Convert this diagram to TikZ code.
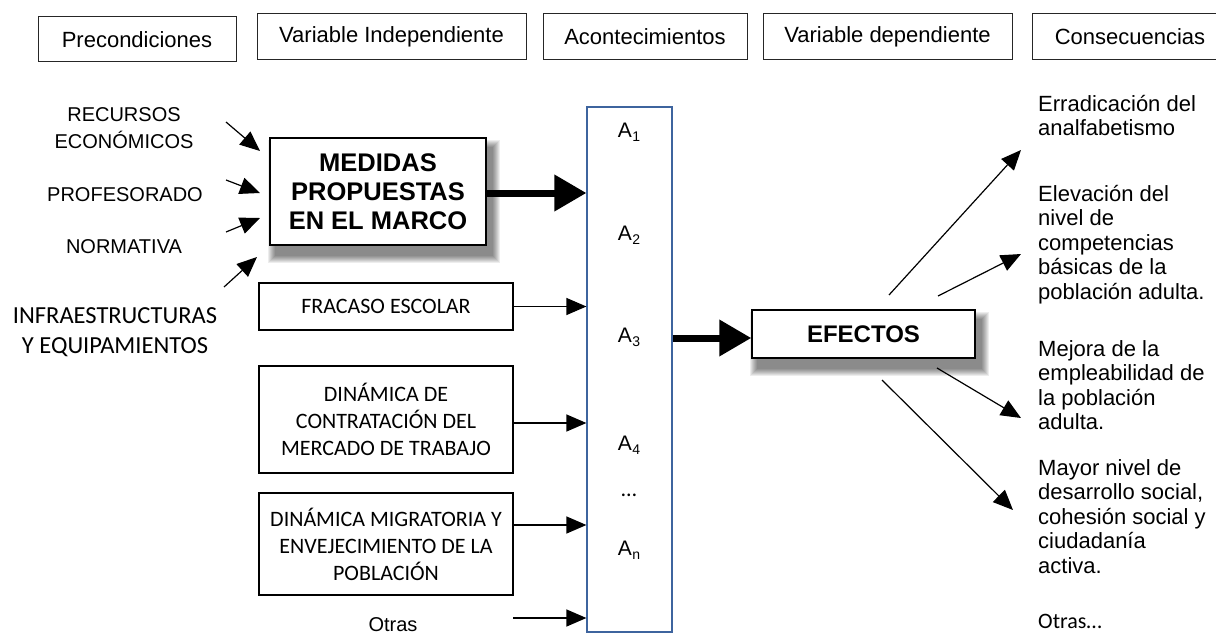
\documentclass[tikz,border=0pt]{standalone}
\usepackage{fontspec}
\setmainfont{Liberation Sans}
\newfontfamily\calfont{Carlito}
\usetikzlibrary{arrows.meta}
\pgfdeclarelayer{bg}
\pgfsetlayers{bg,main}
\newcommand\Asub[1]{A\kern0.3pt\raisebox{-4pt}{\fontsize{14}{14}\selectfont #1}}
\newcommand\softshadow[1]{%
  \foreach \g in {0,...,7}{%
    \fill[black,opacity=0.07] ([shift={(6-\g,10-\g)}]#1.north west) rectangle ([shift={(6+\g,10+\g)}]#1.south east);
  }}
\begin{document}
\begin{tikzpicture}[x=1pt,y=-1pt,
  hdr/.style={draw=black!85, line width=1pt, inner sep=0pt, font=\fontsize{22}{25}\selectfont},
  bigbox/.style={draw, line width=1.4pt, fill=white, inner sep=0pt, align=center, font=\bfseries\fontsize{25.5}{29}\selectfont},
  factorbox/.style={draw, line width=1.4pt, inner sep=0pt, align=center, font=\calfont\fontsize{22}{27}\selectfont},
  lbl/.style={inner sep=0pt, align=center, font=\fontsize{20}{27}\selectfont},
  res/.style={inner sep=0pt, anchor=north west, align=left, font=\fontsize{22}{24.5}\selectfont},
  arr/.style={line width=1.2pt, -{Triangle[length=20pt,width=17pt]}},
  fatarr/.style={line width=7pt, -{Triangle[length=32pt,width=35pt]}},
  alabel/.style={inner sep=0pt, font=\fontsize{21}{24}\selectfont},
]
\useasboundingbox (0,0) rectangle (1216,634);
\begin{pgfonlayer}{bg}
\fill[white] (0,0) rectangle (1216,634);
\end{pgfonlayer}

% header row
\node[hdr, minimum width=198pt, minimum height=45pt] (h1) at (137,39.5) {Precondiciones};
\node[hdr, minimum width=269pt, minimum height=46pt] (h2) at (391.5,37) {Variable Independiente};
\node[hdr, minimum width=204pt, minimum height=46pt] (h3) at (645,37) {Acontecimientos};
\node[hdr, minimum width=249pt, minimum height=46pt] (h4) at (887.5,37) {Variable dependiente};
\node[hdr, minimum width=196pt, minimum height=46pt] (h5) at (1130,37) {Consecuencias};

% left preconditions
\node[lbl] (rec) at (124,128.5) {RECURSOS\\ECONÓMICOS};
\node[lbl] (prof) at (125,195) {PROFESORADO};
\node[lbl] (norm) at (124,247) {NORMATIVA};
\node[inner sep=0pt, align=center, font=\calfont\fontsize{24.5}{30}\selectfont] (infra) at (115,332) {INFRAESTRUCTURAS\\Y EQUIPAMIENTOS};

% main box
\node[bigbox, minimum width=216pt, minimum height=107pt] (med) at (378,191.5) {MEDIDAS\\PROPUESTAS\\EN EL MARCO};

% factor boxes
\node[factorbox, minimum width=254pt, minimum height=47pt] (fr) at (386,306.5) {FRACASO ESCOLAR};
\node[factorbox, minimum width=254pt, minimum height=107pt] (din) at (386,419.5) {DINÁMICA DE\\CONTRATACIÓN DEL\\MERCADO DE TRABAJO};
\node[factorbox, minimum width=254pt, minimum height=102pt] (mig) at (386,544) {DINÁMICA MIGRATORIA Y\\ENVEJECIMIENTO DE LA\\POBLACIÓN};
\node[inner sep=0pt, anchor=base, font=\fontsize{20}{23}\selectfont] (otl) at (393,631) {Otras};

% events column
\node[draw={rgb,255:red,62;green,100;blue,158}, line width=1.2pt, minimum width=85pt, minimum height=525pt, inner sep=0pt] (col) at (629.5,369.5) {};
\node[alabel] (a1) at (629,132) {\Asub{1}};
\node[alabel] (a2) at (629,235) {\Asub{2}};
\node[alabel] (a3) at (629,337) {\Asub{3}};
\node[alabel] (a4) at (629,445) {\Asub{4}};
\node[inner sep=0pt, font=\calfont\fontsize{22}{24}\selectfont] (adots) at (629,495) {…};
\node[alabel] (an) at (629,550) {\Asub{n}};

% effects box
\node[bigbox, font=\bfseries\fontsize{24}{28}\selectfont, minimum width=223pt, minimum height=48pt] (ef) at (863.5,334) {EFECTOS};

\begin{pgfonlayer}{bg}
  \softshadow{med}
  \softshadow{ef}
\end{pgfonlayer}

% consequences
\node[res] (c1) at (1038,95) {Erradicación del\\analfabetismo};
\node[res] (c2) at (1038,185) {Elevación del\\nivel de\\competencias\\básicas de la\\población adulta.};
\node[res] (c3) at (1038,340) {Mejora de la\\empleabilidad de\\la población\\adulta.};
\node[res] (c4) at (1038,459) {Mayor nivel de\\desarrollo social,\\cohesión social y\\ciudadanía\\activa.};
\node[inner sep=0pt, anchor=base west, font=\calfont\fontsize{22}{24}\selectfont] (c5) at (1038,628) {Otras…};

% arrows into main box
\coordinate (s1) at (226,122); \coordinate (t1) at (260,151);
\coordinate (s2) at (226,180); \coordinate (t2) at (260,193);
\coordinate (s3) at (226,232); \coordinate (t3) at (260,218);
\coordinate (s4) at (224,287); \coordinate (t4) at (257,257);
\draw[arr] (s1) -- (t1);
\draw[arr] (s2) -- (t2);
\draw[arr] (s3) -- (t3);
\draw[arr] (s4) -- (t4);

\draw[fatarr] (med.east |- 0,193) -- (col.west |- 0,193);
\draw[arr] (fr.east) -- (col.west |- fr.east);
\draw[arr] (din.east |- 0,423) -- (col.west |- 0,423);
\draw[arr] (mig.east |- 0,525) -- (col.west |- 0,525);
\coordinate (os) at (513,618);
\draw[arr] (os) -- (col.west |- os);

\draw[fatarr] (col.east |- 0,338) -- (ef.west |- 0,338);

% arrows to consequences
\coordinate (e1) at (889,295); \coordinate (f1) at (1021,150);
\coordinate (e2) at (938,296); \coordinate (f2) at (1021,254);
\coordinate (e3) at (937,368); \coordinate (f3) at (1021,418);
\coordinate (e4) at (882,380); \coordinate (f4) at (1013,510);
\draw[arr] (e1) -- (f1);
\draw[arr] (e2) -- (f2);
\draw[arr] (e3) -- (f3);
\draw[arr] (e4) -- (f4);
\end{tikzpicture}
\end{document}
